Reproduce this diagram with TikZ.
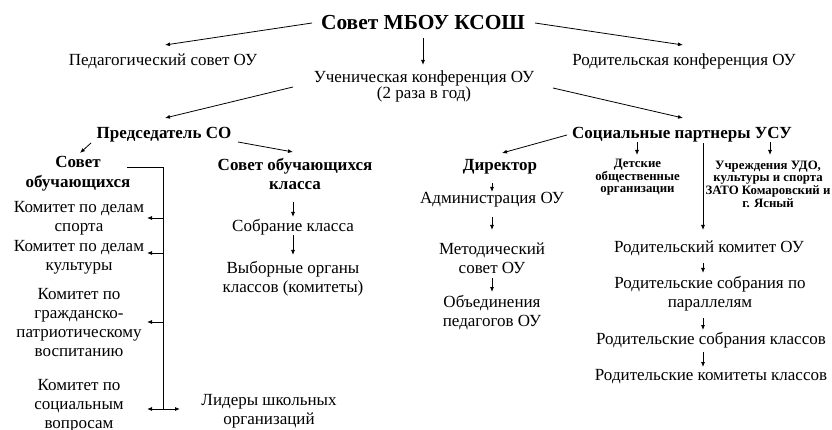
\documentclass[tikz,border=0pt]{standalone}
\usepackage{fontspec}
\setmainfont{Liberation Serif}
\usetikzlibrary{arrows.meta}
\begin{document}
\begin{tikzpicture}[x=1pt,y=-1pt,
  every node/.style={inner sep=0pt,align=center},
  txt/.style={font=\fontsize{17}{19}\selectfont},
  hd/.style={font=\fontsize{17}{19.5}\selectfont\bfseries},
  ttl/.style={font=\fontsize{21.4}{24}\selectfont\bfseries},
  sm/.style={font=\fontsize{12.8}{12.6}\selectfont\bfseries},
  ln/.style={line width=0.8pt},
  arr/.style={ln,-{Latex[length=5pt,width=4pt]}}]
\useasboundingbox (0,0) rectangle (832,430);
\clip (0,0) rectangle (832,430);
% nodes
\node[ttl] (title) at (423,23) {Совет МБОУ КСОШ};
\node[txt] (ped) at (163,61) {Педагогический совет ОУ};
\node[txt] (rodconf) at (684,61) {Родительская конференция ОУ};
\node[txt,font=\fontsize{17}{16}\selectfont] (uch) at (424,86.5) {Ученическая конференция ОУ\\(2 раза в год)};
\node[hd] (pred) at (164,135) {Председатель СО};
\node[hd] (socp) at (682,135) {Социальные партнеры УСУ};
\node[hd] (sovob) at (78,173.5) {Совет\\обучающихся};
\node[hd] (sovkl) at (295,174) {Совет обучающихся\\класса};
\node[txt] (kom1) at (79,218) {Комитет по делам\\спорта};
\node[txt] (kom2) at (79,257.5) {Комитет по делам\\культуры};
\node[txt] (kom3) at (79,323) {Комитет по\\гражданско-\\патриотическому\\воспитанию};
\node[txt] (kom4) at (79,406) {Комитет по\\социальным\\вопросам};
\node[txt] (lid) at (269,411) {Лидеры школьных\\организаций};
\node[txt] (sobr) at (293,227) {Собрание класса};
\node[txt] (vyb) at (293,279) {Выборные органы\\классов (комитеты)};
\node[hd] (dir) at (500,167) {Директор};
\node[txt] (adm) at (492,200) {Администрация ОУ};
\node[txt] (met) at (492,258) {Методический\\совет ОУ};
\node[txt] (obj) at (492,313) {Объединения\\педагогов ОУ};
\node[sm] (det) at (637.5,177.5) {Детские\\общественные\\организации};
\node[sm] (ucr) at (768,184) {Учреждения УДО,\\культуры и спорта\\ЗАТО Комаровский и\\г. Ясный};
\node[txt] (rk) at (709,248) {Родительский комитет ОУ};
\node[txt] (rsp) at (710,294) {Родительские собрания по\\параллелям};
\node[txt] (rsk) at (711,340) {Родительские собрания классов};
\node[txt] (rkk) at (711,377) {Родительские комитеты классов};
% bracket coordinates
\coordinate (v0) at (163,167.5);
\coordinate (v1) at (163,218);
\coordinate (v2) at (163,253);
\coordinate (v3) at (163,322);
\coordinate (v4) at (163,409);
% connectors
\draw[arr] ([xshift=-111pt]title.center) -- ([xshift=2pt,yshift=16pt]ped.center);
\draw[arr] ([xshift=112pt]title.center) -- ([xshift=-1pt,yshift=16pt]rodconf.center);
\draw[arr] ([yshift=-15pt]title.center) -- ([xshift=-1pt,yshift=21.5pt]uch.center);
\draw[arr] ([xshift=-131pt,yshift=-0.5pt]uch.center) -- ([xshift=1pt,yshift=17pt]pred.center);
\draw[arr] ([xshift=129pt,yshift=-1.5pt]uch.center) -- ([xshift=1pt,yshift=17pt]socp.center);
\draw[arr] ([xshift=-73pt,yshift=-8pt]pred.center) -- ([xshift=2pt,yshift=20.5pt]sovob.center);
\draw[arr] ([xshift=74pt,yshift=-7pt]pred.center) -- ([xshift=-2pt,yshift=22pt]sovkl.center);
\draw[ln] ([xshift=49pt,yshift=6pt]sovob.center) -- (v0) -- (v4);
\draw[arr] (v1) -- ([xshift=68pt]kom1.center);
\draw[arr] (v2) -- ([xshift=68pt,yshift=4.5pt]kom2.center);
\draw[arr] (v3) -- ([xshift=68pt,yshift=1pt]kom3.center);
\draw[arr] (v4) -- ([xshift=68pt,yshift=-3pt]kom4.center);
\draw[arr] (v4) -- ([xshift=-89pt,yshift=2pt]lid.center);
\draw[arr] ([xshift=-2pt,yshift=-28pt]sovkl.center) -- ([yshift=10pt]sobr.center);
\draw[arr] ([yshift=-8pt]sobr.center) -- ([yshift=24pt]vyb.center);
\draw[arr] ([xshift=-115pt]socp.center) -- ([xshift=2pt,yshift=14pt]dir.center);
\draw[arr] ([xshift=-45pt,yshift=-7pt]socp.center) -- ([xshift=-0.5pt,yshift=22.5pt]det.center);
\draw[arr] ([xshift=88pt,yshift=-7pt]socp.center) -- ([xshift=2pt,yshift=29pt]ucr.center);
\draw[arr] ([xshift=21pt,yshift=-8pt]socp.center) -- ([xshift=-6pt,yshift=18pt]rk.center);
\draw[arr] ([xshift=-8pt,yshift=-16pt]dir.center) -- ([yshift=8pt]adm.center);
\draw[arr] ([yshift=-17pt]adm.center) -- ([yshift=28pt]met.center);
\draw[arr] ([yshift=-20pt]met.center) -- ([yshift=21pt]obj.center);
\draw[arr] ([xshift=-6pt,yshift=-15pt]rk.center) -- ([xshift=-7pt,yshift=21pt]rsp.center);
\draw[arr] ([xshift=-7pt,yshift=-24pt]rsp.center) -- ([xshift=-8pt,yshift=10pt]rsk.center);
\draw[arr] ([xshift=-8pt,yshift=-12pt]rsk.center) -- ([xshift=-8pt,yshift=10pt]rkk.center);
\end{tikzpicture}
\end{document}
